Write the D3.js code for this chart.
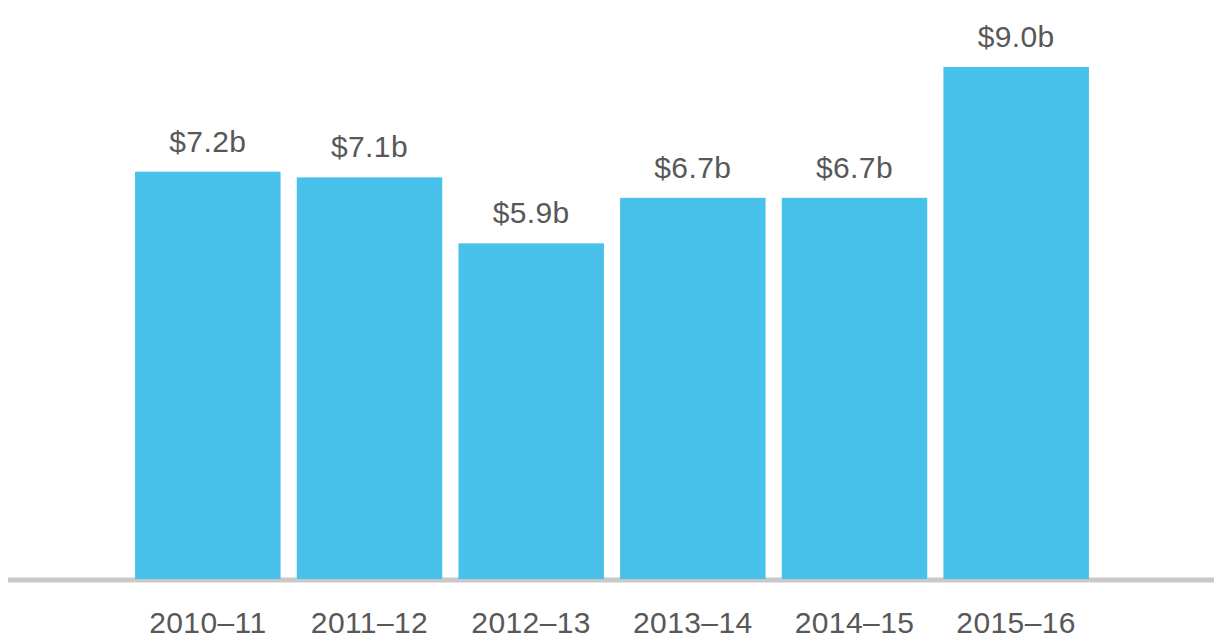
<!DOCTYPE html>
<html>
<head>
<meta charset="utf-8">
<script src="https://cdn.jsdelivr.net/npm/d3@7"></script>
<style>
  html, body { margin: 0; padding: 0; background: #fff; }
  svg { display: block; }
  text { font-family: "Liberation Sans", Arial, Helvetica, sans-serif; }
</style>
</head>
<body>
<div id="chart"></div>
<script>
// financial years and spend in $ billions
const years = ["2010–11", "2011–12", "2012–13", "2013–14", "2014–15", "2015–16"];
const spend = [7.16, 7.06, 5.9, 6.7, 6.7, 9.0];

const width = 1214, height = 640;
const baseline = 579;

const svg = d3.select("#chart")
  .append("svg")
    .attr("width", width)
    .attr("height", height);

const x = d3.scaleBand()
  .domain(years)
  .range([127, 1097])
  .paddingInner(0.1)
  .paddingOuter(0.05);

const y = d3.scaleLinear()
  .domain([0, 9.0])
  .range([baseline, 67]);

const fmt = v => "$" + d3.format(".1f")(v) + "b";

// axis line along the bottom
svg.append("line")
  .attr("x1", 8)
  .attr("x2", width)
  .attr("y1", baseline + 1)
  .attr("y2", baseline + 1)
  .attr("stroke", "#c9c9cb")
  .attr("stroke-width", 5);

const data = years.map((yr, i) => ({ year: yr, value: spend[i] }));

svg.append("g")
  .selectAll("rect")
  .data(data)
  .enter().append("rect")
    .attr("x", d => x(d.year))
    .attr("y", d => y(d.value))
    .attr("width", x.bandwidth())
    .attr("height", d => baseline - y(d.value))
    .attr("fill", "#48c1eb");

// value labels above bars
svg.append("g")
  .selectAll("text")
  .data(data)
  .enter().append("text")
    .attr("x", d => x(d.year) + x.bandwidth() / 2)
    .attr("y", d => y(d.value) - 20)
    .attr("text-anchor", "middle")
    .attr("font-size", 30)
    .attr("letter-spacing", 0.4)
    .attr("fill", "#585858")
    .text(d => fmt(d.value));

// category labels under the axis
svg.append("g")
  .selectAll("text")
  .data(years)
  .enter().append("text")
    .attr("x", d => x(d) + x.bandwidth() / 2)
    .attr("y", 633)
    .attr("text-anchor", "middle")
    .attr("font-size", 30)
    .attr("letter-spacing", 0.4)
    .attr("fill", "#585858")
    .text(d => d);
</script>
</body>
</html>
